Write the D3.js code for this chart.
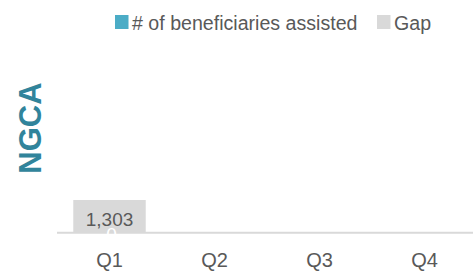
<!DOCTYPE html>
<html><head><meta charset="utf-8">
<script src="https://cdn.jsdelivr.net/npm/d3@7/dist/d3.min.js"></script>
<style>body{margin:0;background:#fff}svg{display:block}</style>
</head><body>
<svg id="c" width="473" height="272"></svg>
<script>
const categories = ["Q1", "Q2", "Q3", "Q4"];
const assisted = [0, null, null, null];
const gap = [1303, null, null, null];
const seriesNames = ["# of beneficiaries assisted", "Gap"];
const yTitle = "NGCA";

const svg = d3.select("#c");
const font = "'Liberation Sans', Arial, sans-serif";
const textColor = "#595959";
const colors = ["#4BACC6", "#D9D9D9"];

const x = d3.scaleBand().domain(categories).range([57, 477]).paddingInner(0.31).paddingOuter(0.155);
const y = d3.scaleLinear().domain([0, 8000]).range([232.7, 32]);

const rows = categories.map((c, i) => ({cat: c, a: assisted[i], g: gap[i]}));
const stack = d3.stack().keys(["a", "g"]).value((d, k) => d[k] == null ? 0 : d[k]);
const series = stack(rows);

series.forEach((s, si) => {
  svg.append("g").selectAll("rect").data(s.filter((d, i) => rows[i][si === 0 ? "a" : "g"] != null))
    .join("rect")
    .attr("x", d => x(d.data.cat))
    .attr("width", x.bandwidth())
    .attr("y", d => y(d[1]))
    .attr("height", d => y(d[0]) - y(d[1]))
    .attr("fill", colors[si]);
});

// axis line
svg.append("line").attr("x1", 57).attr("x2", 473).attr("y1", y(0)).attr("y2", y(0))
  .attr("stroke", "#D9D9D9").attr("stroke-width", 2);

// data labels
rows.forEach(r => {
  if (r.g != null) {
    svg.append("text").attr("x", x(r.cat) + x.bandwidth() / 2).attr("y", y(r.a + r.g) + 25.5)
      .attr("text-anchor", "middle").attr("font-family", font).attr("font-size", 19)
      .attr("fill", textColor).text(d3.format(",")(r.g));
  }
  if (r.a != null) {
    svg.append("text").attr("x", x(r.cat) + x.bandwidth() / 2 + 2).attr("y", y(0) + 8.5)
      .attr("text-anchor", "middle").attr("font-family", font).attr("font-size", 19)
      .attr("fill", "#ffffff").text(d3.format(",")(r.a));
  }
});

// x axis labels
const xAxis = d3.axisBottom(x).tickSize(0).tickPadding(0);
const gx = svg.append("g").attr("transform", `translate(0,${y(0)})`).call(xAxis);
gx.select(".domain").remove();
gx.selectAll("text").attr("font-family", font).attr("font-size", 20).attr("fill", textColor)
  .attr("dy", null).attr("y", 34);

// y title
svg.append("text").attr("transform", "translate(41,128) rotate(-90)")
  .attr("text-anchor", "middle").attr("font-family", font).attr("font-weight", "bold")
  .attr("font-size", 31).attr("fill", "#31849B").text(yTitle);

// legend
const leg = svg.append("g");
const legItems = [{name: seriesNames[0], x: 115, c: colors[0]}, {name: seriesNames[1], x: 377, c: colors[1]}];
legItems.forEach(it => {
  leg.append("rect").attr("x", it.x).attr("y", 15).attr("width", 13.5).attr("height", 14).attr("fill", it.c);
  leg.append("text").attr("x", it.x + 17).attr("y", 29.5).attr("font-family", font).attr("font-size", 19.6)
    .attr("fill", textColor).text(it.name);
});
</script>
</body></html>
